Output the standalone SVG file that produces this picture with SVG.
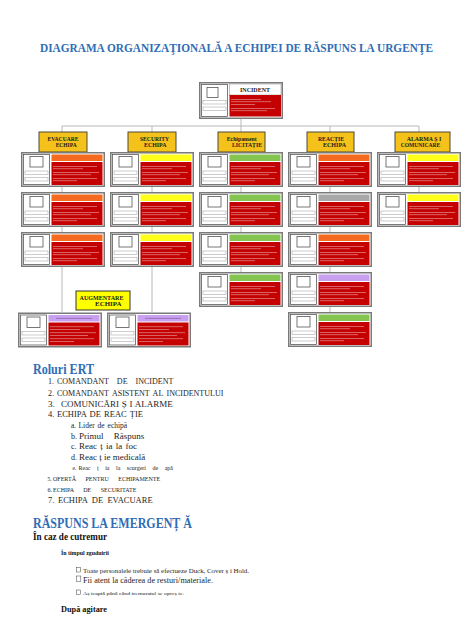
<svg xmlns="http://www.w3.org/2000/svg" xmlns:xlink="http://www.w3.org/1999/xlink" width="474" height="632" viewBox="0 0 474 632">
<style>
.serif{font-family:"Liberation Serif","Times New Roman",serif}
.title{font-family:"Liberation Serif",serif;font-weight:bold;fill:#2F6DB5}
.hdr{fill:#F5C21B;stroke:#4a4a3a;stroke-width:1}
.hdrt{font-family:"Liberation Serif",serif;font-weight:bold;font-size:6px;fill:#1a1a1a}
.conn line{stroke:#b8b8b8;stroke-width:1}
.orange{fill:#F46A1E}
.yellow{fill:#FFFF1A}
.green{fill:#84C552}
.gray{fill:#A8A8A8}
.purple{fill:#C9A0F0}
.li{font-family:"Liberation Serif",serif;fill:#1e1e1e}
</style>
<defs>
<g id="card">
<rect x="0.75" y="0.75" width="82.5" height="33.5" fill="#fff" stroke="#7a7a7a" stroke-width="1.5"/>
<rect x="2.5" y="2.5" width="26" height="30" fill="#fff" stroke="#444" stroke-width="0.7"/>
<rect x="9" y="4.5" width="13" height="10.5" fill="#fff" stroke="#555" stroke-width="0.8"/>
<rect x="4" y="19" width="23" height="3.5" fill="#fff" stroke="#aaa" stroke-width="0.6"/>
<rect x="4" y="25.5" width="23" height="3.5" fill="#fff" stroke="#aaa" stroke-width="0.6"/>
<rect x="30.5" y="10" width="51" height="23" fill="#C40000"/>
<g fill="#f3dede" opacity="0.75">
<rect x="32" y="14" width="44" height="0.6"/>
<rect x="32" y="16.5" width="30" height="0.6"/>
<rect x="32" y="20" width="46" height="0.6"/>
<rect x="32" y="22.5" width="38" height="0.6"/>
<rect x="32" y="26" width="44" height="0.6"/>
<rect x="32" y="28.5" width="24" height="0.6"/>
</g>
</g>
</defs>

<text class="title" x="40" y="52" font-size="12" textLength="393" lengthAdjust="spacingAndGlyphs">DIAGRAMA ORGANIZAŢIONALĂ A ECHIPEI DE RĂSPUNS LA URGENŢE</text>

<g class="conn" id="connectors">
<line x1="62" y1="126" x2="419" y2="126"/>
<line x1="241" y1="118" x2="241" y2="272"/>
<line x1="62" y1="126" x2="62" y2="312"/>
<line x1="152" y1="126" x2="152" y2="312"/>
<line x1="330" y1="126" x2="330" y2="312"/>
<line x1="419" y1="126" x2="419" y2="192"/>
</g>

<g id="incident">
<rect x="199.75" y="82.75" width="82.5" height="35.5" fill="#fff" stroke="#7a7a7a" stroke-width="1.5"/>
<rect x="201.5" y="84.5" width="26" height="32" fill="#fff" stroke="#444" stroke-width="0.7"/>
<rect x="207" y="87.5" width="11" height="10" fill="#fff" stroke="#555" stroke-width="0.8"/>
<rect x="203" y="100.5" width="23" height="3.5" fill="#fff" stroke="#aaa" stroke-width="0.6"/>
<rect x="203" y="107" width="23" height="3.5" fill="#fff" stroke="#aaa" stroke-width="0.6"/>
<rect x="229.5" y="84" width="51.5" height="11" fill="#fff" stroke="#888" stroke-width="0.5"/>
<text class="hdrt" x="255" y="92" font-size="5.5" text-anchor="middle">INCIDENT</text>
<rect x="229.5" y="95" width="51.5" height="21.5" fill="#C40000"/>
<g fill="#f3dede" opacity="0.75">
<rect x="231" y="99" width="30" height="0.6"/>
<rect x="231" y="101.5" width="40" height="0.6"/>
<rect x="231" y="104" width="24" height="0.6"/>
<rect x="231" y="108" width="44" height="0.6"/>
<rect x="231" y="110.5" width="36" height="0.6"/>
</g>
</g>

<g id="hdr-evacuare">
<rect class="hdr" x="39" y="132" width="48" height="20"/>
<text class="hdrt" x="47.5" y="140.7" textLength="31" lengthAdjust="spacingAndGlyphs">EVACUARE</text>
<text class="hdrt" x="55.7" y="146.5" textLength="21" lengthAdjust="spacingAndGlyphs">ECHIPA</text>
</g>
<g id="hdr-security">
<rect class="hdr" x="128" y="132" width="48" height="20"/>
<text class="hdrt" x="140" y="140.7" textLength="29" lengthAdjust="spacingAndGlyphs">SECURITY</text>
<text class="hdrt" x="144" y="146.5" textLength="22.5" lengthAdjust="spacingAndGlyphs">ECHIPA</text>
</g>
<g id="hdr-echipament">
<rect class="hdr" x="218" y="132" width="47" height="20"/>
<text class="hdrt" x="226.7" y="140.5" textLength="30" lengthAdjust="spacingAndGlyphs">Echipament</text>
<text class="hdrt" x="232" y="146.7" textLength="30" lengthAdjust="spacingAndGlyphs">LICITAȚIE</text>
</g>
<g id="hdr-reactie">
<rect class="hdr" x="307" y="132" width="47" height="20"/>
<text class="hdrt" x="318" y="140.7" textLength="26" lengthAdjust="spacingAndGlyphs">REACȚIE</text>
<text class="hdrt" x="323" y="146.5" textLength="23" lengthAdjust="spacingAndGlyphs">ECHIPA</text>
</g>
<g id="hdr-alarma">
<rect class="hdr" x="395" y="132" width="55" height="20"/>
<text class="hdrt" x="406.7" y="140.7" textLength="34.5" lengthAdjust="spacingAndGlyphs">ALARMA Ș I</text>
<text class="hdrt" x="400.7" y="146.5" textLength="39.5" lengthAdjust="spacingAndGlyphs">COMUNICARE</text>
</g>

<g id="evac-1" transform="translate(21,152)"><use xlink:href="#card"/><rect class="orange" x="30.5" y="2.5" width="51" height="6.5"/></g>
<g id="evac-2" transform="translate(21,192)"><use xlink:href="#card"/><rect class="orange" x="30.5" y="2.5" width="51" height="6.5"/></g>
<g id="evac-3" transform="translate(21,232)"><use xlink:href="#card"/><rect class="orange" x="30.5" y="2.5" width="51" height="6.5"/></g>

<g id="sec-1" transform="translate(110,152)"><use xlink:href="#card"/><rect class="yellow" x="30.5" y="2.5" width="51" height="6.5"/></g>
<g id="sec-2" transform="translate(110,192)"><use xlink:href="#card"/><rect class="yellow" x="30.5" y="2.5" width="51" height="6.5"/></g>
<g id="sec-3" transform="translate(110,232)"><use xlink:href="#card"/><rect class="yellow" x="30.5" y="2.5" width="51" height="6.5"/></g>

<g id="echip-1" transform="translate(199,152)"><use xlink:href="#card"/><rect class="green" x="30.5" y="2.5" width="51" height="6.5"/></g>
<g id="echip-2" transform="translate(199,192)"><use xlink:href="#card"/><rect class="green" x="30.5" y="2.5" width="51" height="6.5"/></g>
<g id="echip-3" transform="translate(199,232)"><use xlink:href="#card"/><rect class="green" x="30.5" y="2.5" width="51" height="6.5"/></g>
<g id="echip-4" transform="translate(199,272)"><use xlink:href="#card"/><rect class="green" x="30.5" y="2.5" width="51" height="6.5"/></g>

<g id="react-1" transform="translate(288,152)"><use xlink:href="#card"/><rect class="orange" x="30.5" y="2.5" width="51" height="6.5"/></g>
<g id="react-2" transform="translate(288,192)"><use xlink:href="#card"/><rect class="gray" x="30.5" y="2.5" width="51" height="6.5"/></g>
<g id="react-3" transform="translate(288,232)"><use xlink:href="#card"/><rect class="orange" x="30.5" y="2.5" width="51" height="6.5"/></g>
<g id="react-4" transform="translate(288,272)"><use xlink:href="#card"/><rect class="purple" x="30.5" y="2.5" width="51" height="6.5"/></g>
<g id="react-5" transform="translate(288,312)"><use xlink:href="#card"/><rect class="green" x="30.5" y="2.5" width="51" height="6.5"/></g>

<g id="alarma-1" transform="translate(377,152)"><use xlink:href="#card"/><rect class="yellow" x="30.5" y="2.5" width="51" height="6.5"/></g>
<g id="alarma-2" transform="translate(377,192)"><use xlink:href="#card"/><rect class="yellow" x="30.5" y="2.5" width="51" height="6.5"/></g>

<g id="hdr-augmentare">
<rect x="76" y="291" width="54" height="19" fill="#FFFF00" stroke="#333" stroke-width="1"/>
<text class="hdrt" x="79.5" y="300" textLength="44" lengthAdjust="spacingAndGlyphs">AUGMENTARE</text>
<text class="hdrt" x="95" y="306.3" textLength="26.5" lengthAdjust="spacingAndGlyphs">ECHIPA</text>
</g>
<g id="aug-1" transform="translate(18,312.5)"><use xlink:href="#card"/><rect class="purple" x="30.5" y="2.5" width="51" height="6.5"/><rect x="38" y="5.4" width="36" height="0.7" fill="#553377" opacity="0.6"/></g>
<g id="aug-2" transform="translate(107,312.5)"><use xlink:href="#card"/><rect class="purple" x="30.5" y="2.5" width="51" height="6.5"/><rect x="38" y="5.4" width="36" height="0.7" fill="#553377" opacity="0.6"/></g>

<g id="roluri">
<text class="title" x="33" y="373.5" font-size="14" textLength="61" lengthAdjust="spacingAndGlyphs">Roluri ERT</text>
<text class="li" x="48" y="384.3" font-size="8">1.</text>
<text class="li" x="57" y="384.3" font-size="8" word-spacing="6">COMANDANT DE INCIDENT</text>
<text class="li" x="48" y="395.5" font-size="8">2.</text>
<text class="li" x="57" y="395.5" font-size="8" word-spacing="1.5">COMANDANT ASISTENT AL INCIDENTULUI</text>
<text class="li" x="48" y="407.3" font-size="9">3.</text>
<text class="li" x="61" y="407.3" font-size="9" word-spacing="0.5">COMUNICĂRI Ș I ALARME</text>
<text class="li" x="48" y="417.3" font-size="8.5">4.</text>
<text class="li" x="57" y="417.3" font-size="8.5" word-spacing="1">ECHIPA DE REAC ȚIE</text>
<text class="li" x="71" y="427.7" font-size="7.5">a.</text>
<text class="li" x="78.5" y="427.7" font-size="7.5" word-spacing="1">Lider de echipă</text>
<text class="li" x="71" y="438.7" font-size="8">b.</text>
<text class="li" x="79" y="438.7" font-size="9" word-spacing="8">Primul Răspuns</text>
<text class="li" x="71" y="449" font-size="8">c.</text>
<text class="li" x="79" y="449" font-size="9" word-spacing="1">Reac ț ia la foc</text>
<text class="li" x="71" y="460" font-size="8">d.</text>
<text class="li" x="79" y="460" font-size="9" word-spacing="0">Reac ț ie medicală</text>
<text class="li" x="72.5" y="470.3" font-size="5.5">e.</text>
<text class="li" x="78.5" y="470.3" font-size="6" word-spacing="5">Reac ț ia la scurgeri de apă</text>
<text class="li" x="47.5" y="481" font-size="5.5">5.</text>
<text class="li" x="53" y="481" font-size="6" word-spacing="8">OFERTĂ PENTRU ECHIPAMENTE</text>
<text class="li" x="47.5" y="491.7" font-size="6">6.</text>
<text class="li" x="53" y="491.7" font-size="6" word-spacing="8">ECHIPA DE SECURITATE</text>
<text class="li" x="48" y="503" font-size="8.5">7.</text>
<text class="li" x="58" y="503" font-size="8.5" word-spacing="2.2">ECHIPA DE EVACUARE</text>
</g>

<g id="raspuns">
<text class="title" x="33" y="527.5" font-size="14" textLength="159" lengthAdjust="spacingAndGlyphs">RĂSPUNS LA EMERGENȚ Ă</text>
<text class="serif" x="33" y="540" font-size="10.5" font-weight="bold" fill="#111" textLength="74" lengthAdjust="spacingAndGlyphs">În caz de cutremur</text>
<text class="serif" x="61" y="555" font-size="6.5" font-weight="bold" fill="#111" textLength="48" lengthAdjust="spacingAndGlyphs">În timpul zguduirii</text>
<rect x="76.3" y="567.5" width="4" height="4.5" fill="none" stroke="#444" stroke-width="0.5"/>
<text class="li" x="83" y="573.3" font-size="6" textLength="166" lengthAdjust="spacingAndGlyphs">Toate personalele trebuie să efectueze Duck, Cover ș i Hold.</text>
<rect x="76.3" y="576" width="4.5" height="5.5" fill="none" stroke="#444" stroke-width="0.5"/>
<text class="li" x="83" y="582.7" font-size="9" textLength="130" lengthAdjust="spacingAndGlyphs">Fii atent la căderea de resturi/materiale.</text>
<rect x="76.3" y="590" width="4" height="4.5" fill="none" stroke="#444" stroke-width="0.5"/>
<text class="li" x="83" y="595" font-size="5" textLength="101" lengthAdjust="spacingAndGlyphs">Aș teaptă până când tremuratul se opreș te.</text>
<text class="serif" x="61" y="611.7" font-size="9" font-weight="bold" fill="#111" textLength="46" lengthAdjust="spacingAndGlyphs">După agitare</text>
</g>
</svg>
